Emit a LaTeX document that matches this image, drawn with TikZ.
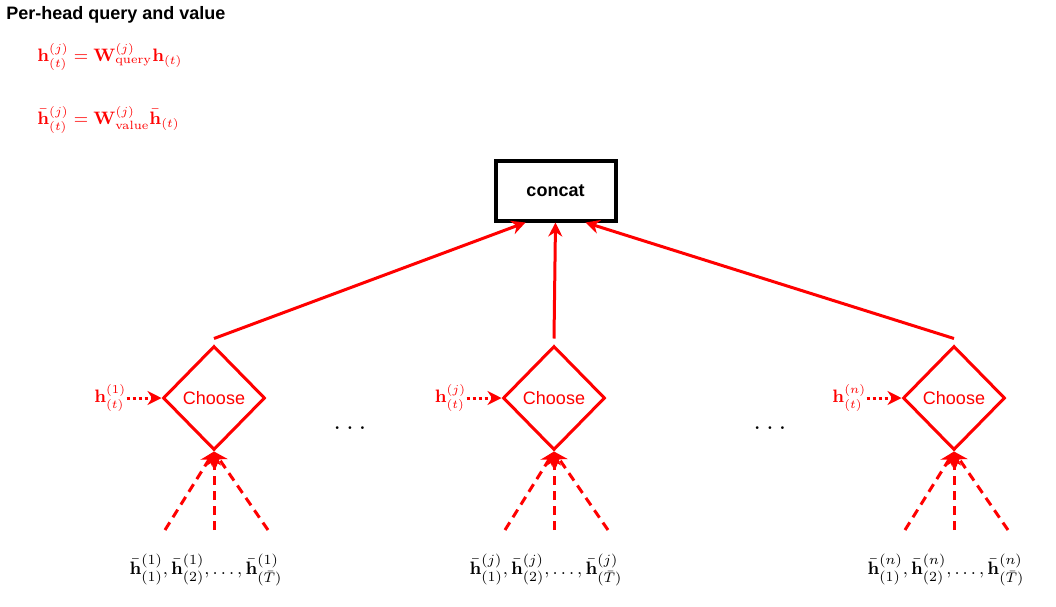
\documentclass[tikz,border=0pt]{standalone}
\usepackage[no-math]{fontspec}
\setmainfont{Liberation Sans}
\usepackage{amsmath}
\usetikzlibrary{shapes.geometric,arrows.meta,positioning}
\begin{document}
\begin{tikzpicture}[
                x=0.5pt, y=-0.5pt,
                every node/.style={inner sep=0pt},
                label text/.style={font=\fontsize{9}{11}\selectfont},
                math text/.style={font=\fontsize{9}{11}\selectfont},
                choose/.style={diamond, draw=red, line width=1.5pt, text=red,
                    minimum width=51pt, minimum height=52pt, label text},
                concatbox/.style={draw=black, line width=2pt, minimum width=60pt,
                    minimum height=30pt, font=\bfseries\fontsize{9}{11}\selectfont},
                feed/.style={red, line width=1.5pt, -{Stealth[length=7pt,width=7pt]}},
                query/.style={red, line width=1.5pt, dash pattern=on 1.5pt off 1.5pt,
                    -{Stealth[length=7pt,width=7pt]}},
                keys/.style={red, line width=1.5pt, dash pattern=on 4.5pt off 3pt,
                    -{Stealth[length=7pt,width=7pt]}},
            ]
            \useasboundingbox (0,0) rectangle (1056,606);
            \node[anchor=west, font=\bfseries\fontsize{9}{11}\selectfont] (title) at (6,15)
                {Per-head query and value};
            \node[anchor=west, text=red, math text] (qform) at (37,57)
                {$\mathbf{h}^{(j)}_{(t)} = \mathbf{W}^{(j)}_{\mathrm{query}}\mathbf{h}_{(t)}$};
            \node[anchor=west, text=red, math text] (vform) at (37,120)
                {$\bar{\mathbf{h}}^{(j)}_{(t)} = \mathbf{W}^{(j)}_{\mathrm{value}}\bar{\mathbf{h}}_{(t)}$};
            \node[concatbox] (concat) at (555.5,190.5) {concat};
            \foreach \k/\x/\head/\dx in {1/214/1/-15pt, 2/554/j/0pt, 3/954/n/15pt} {
                \node[choose] (choose\k) at (\x,398) {Choose};
                \node[left=17.5pt of choose\k, text=red, math text] (q\k)
                    {$\mathbf{h}^{(\head)}_{(t)}$};
                \coordinate (ka\k) at (\x-49,530);
                \coordinate (kb\k) at (\x,530);
                \coordinate (kc\k) at (\x+54,530);
                \node[font=\fontsize{9.5}{11}\selectfont] (keys\k) at (\x-8,570)
                    {$\bar{\mathbf{h}}^{(\head)}_{(1)}, \bar{\mathbf{h}}^{(\head)}_{(2)}, \ldots, \bar{\mathbf{h}}^{(\head)}_{(\bar{T})}$};
                \draw[feed] ([yshift=3pt]choose\k.north) -- ([xshift=\dx]concat.south);
                \draw[query] (q\k) -- (choose\k.west);
                \draw[keys] (ka\k) -- (choose\k.south);
                \draw[keys] (kb\k) -- (choose\k.south);
                \draw[keys] (kc\k) -- (choose\k.south);
            }
            \node[font=\fontsize{14}{16}\selectfont] (dotsA) at (350,428) {$\ldots$};
            \node[font=\fontsize{14}{16}\selectfont] (dotsB) at (770,428) {$\ldots$};
\end{tikzpicture}
\end{document}
